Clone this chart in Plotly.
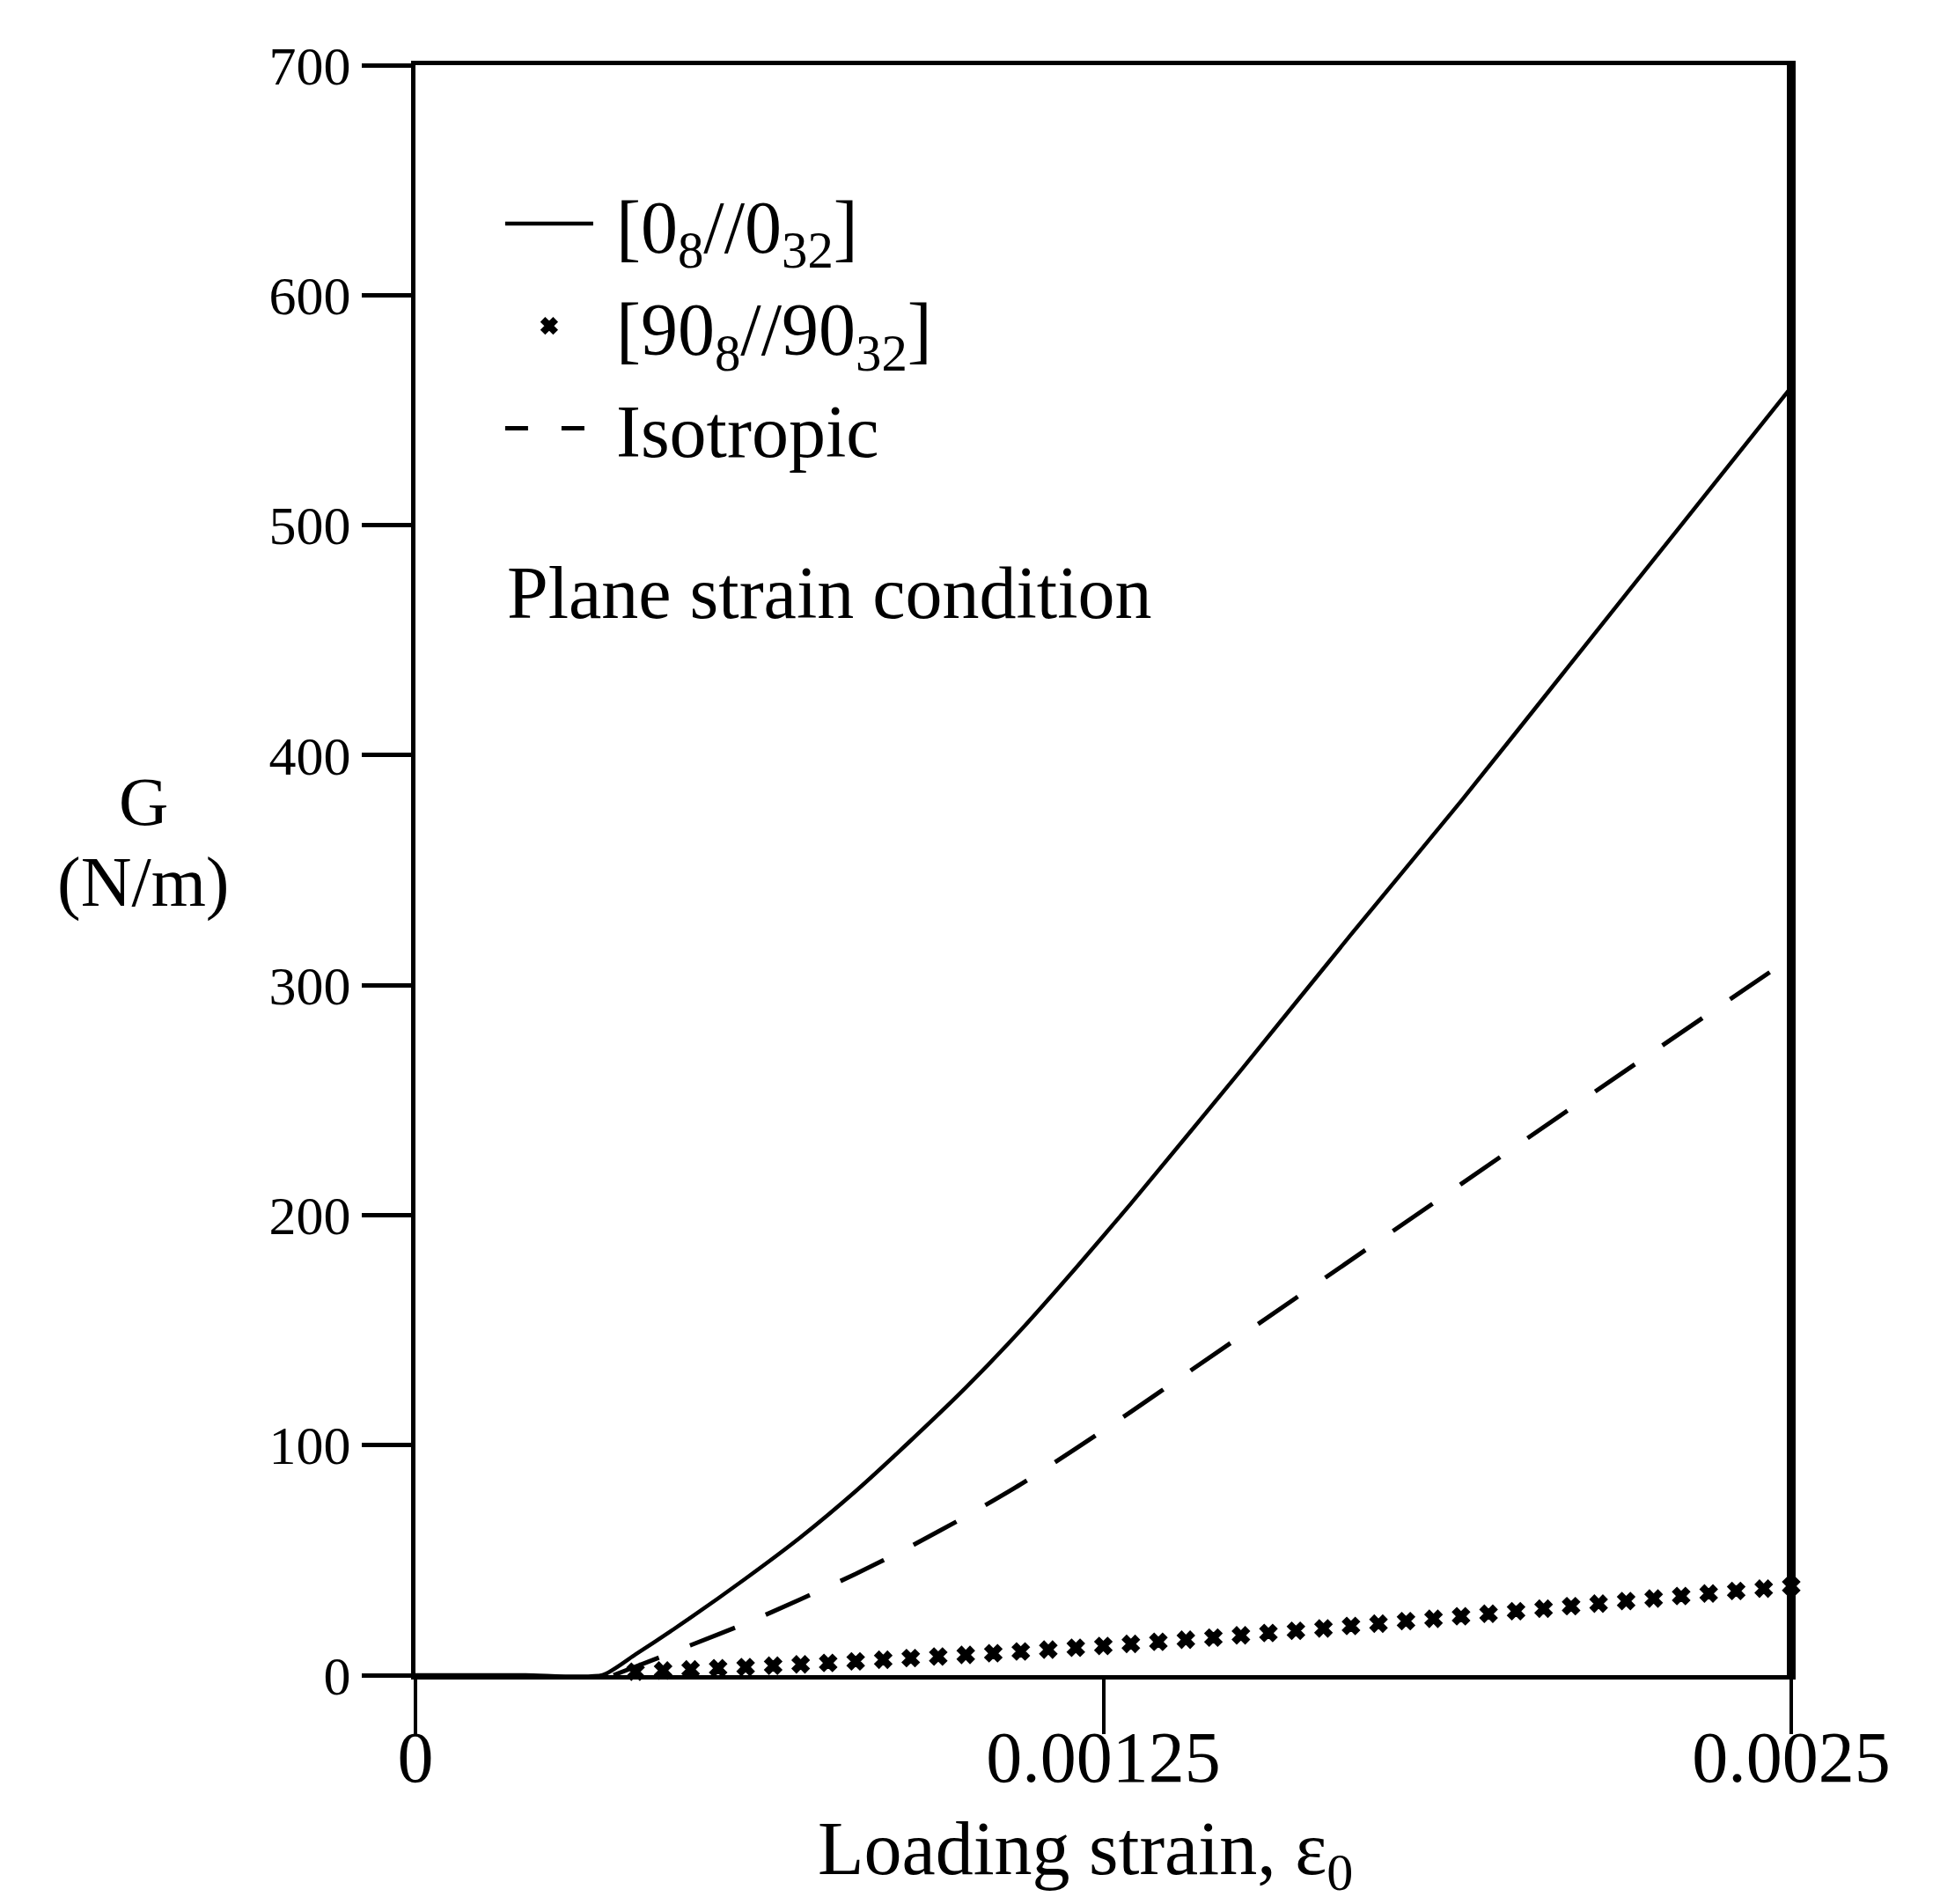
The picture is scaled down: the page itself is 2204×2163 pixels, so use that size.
import plotly.graph_objects as go

# ---- data ----
strain_0 = [0.0, 0.0002, 0.00034, 0.0004, 0.0005, 0.0006, 0.0007, 0.0008, 0.0009, 0.001,
            0.0011, 0.0012, 0.0013, 0.0015, 0.0017, 0.0019, 0.0021, 0.0023, 0.0025]
G_0 = [0.0, 0.0, 0.0, 9.0, 25.0, 42.0, 60.0, 80.0, 102.0, 125.0,
       150.0, 177.0, 205.0, 263.0, 322.0, 380.0, 440.0, 500.0, 560.0]

strain_iso = [0.00036, 0.0005, 0.0006, 0.0007, 0.0008, 0.0009, 0.001, 0.0011, 0.0012,
              0.0013, 0.0014, 0.0016, 0.0018, 0.002, 0.0022, 0.0025]
G_iso = [0.0, 13.0, 22.5, 33.0, 44.0, 56.0, 69.0, 83.0, 98.5,
         114.5, 131.0, 164.0, 197.0, 230.0, 263.0, 312.0]

strain_90 = [0.0004, 0.00045, 0.0005, 0.00055, 0.0006, 0.00065, 0.0007, 0.00075, 0.0008,
             0.00085, 0.0009, 0.00095, 0.001, 0.00105, 0.0011, 0.00115, 0.0012, 0.00125,
             0.0013, 0.00135, 0.0014, 0.00145, 0.0015, 0.00155, 0.0016, 0.00165, 0.0017,
             0.00175, 0.0018, 0.00185, 0.0019, 0.00195, 0.002, 0.00205, 0.0021, 0.00215,
             0.0022, 0.00225, 0.0023, 0.00235, 0.0024, 0.00245, 0.0025]
G_90 = [1.5, 2.0, 2.5, 3.0, 3.5, 4.1, 4.7, 5.3, 6.0,
        6.7, 7.4, 8.1, 8.8, 9.5, 10.3, 11.1, 11.9, 12.7,
        13.6, 14.5, 15.4, 16.3, 17.3, 18.3, 19.3, 20.3, 21.4,
        22.4, 23.5, 24.5, 25.6, 26.7, 27.8, 28.9, 30.0, 31.1,
        32.2, 33.3, 34.4, 35.5, 36.6, 37.6, 38.7]

x_tickvals = [0, 0.00125, 0.0025]
x_ticktext = ["0", "0.00125", "0.0025"]
y_tickvals = [0, 100, 200, 300, 400, 500, 600, 700]

NB = "\u00a0"
names = [NB + "[0<sub>8</sub>//0<sub>32</sub>]", NB + "[90<sub>8</sub>//90<sub>32</sub>]", NB + "Isotropic"]

FONT = "Liberation Serif"
BLACK = "black"

fig = go.Figure()
fig.add_trace(go.Scatter(x=strain_0, y=G_0, mode="lines", name=names[0], legendgroup="a",
                         line=dict(color=BLACK, width=4.5, shape="spline", smoothing=0.6)))
fig.add_trace(go.Scatter(x=strain_90, y=G_90, mode="markers", name=names[1], legendgroup="b",
                         marker=dict(symbol="x", size=17, color=BLACK,
                                     line=dict(color=BLACK, width=1.5)),
                         cliponaxis=False))
# isotropic curve (data) + legend-only sample with a shorter dash so the "- -" shows
fig.add_trace(go.Scatter(x=strain_iso, y=G_iso, mode="lines", name=names[2], legendgroup="c",
                         showlegend=False,
                         line=dict(color=BLACK, width=5, dash="55px,38px",
                                   shape="spline", smoothing=0.6)))
fig.add_trace(go.Scatter(x=[None], y=[None], mode="lines", name=names[2], legendgroup="c",
                         line=dict(color=BLACK, width=5, dash="26px,38px")))

fig.update_layout(
    width=2204, height=2163,
    margin=dict(l=464, r=177, t=66, b=268),
    paper_bgcolor="white", plot_bgcolor="white",
    font=dict(family=FONT, color=BLACK),
    showlegend=True,
    legend=dict(x=0.062, y=0.935, xanchor="left", yanchor="top",
                bgcolor="rgba(0,0,0,0)", font=dict(family=FONT, size=84, color=BLACK),
                itemwidth=100, tracegroupgap=4),
)
fig.update_xaxes(
    range=[0, 0.0025], tickvals=x_tickvals, ticktext=x_ticktext,
    ticks="outside", ticklen=62, tickwidth=4, tickcolor=BLACK,
    showline=True, linewidth=5, linecolor=BLACK, mirror=True,
    showgrid=False, zeroline=False,
    tickfont=dict(family=FONT, size=82, color=BLACK),
    ticklabelstandoff=-44,
)
fig.update_yaxes(
    range=[0, 700], tickvals=y_tickvals,
    ticks="outside", ticklen=56, tickwidth=5, tickcolor=BLACK,
    showline=True, linewidth=5, linecolor=BLACK, mirror=True,
    showgrid=False, zeroline=False,
    tickfont=dict(family=FONT, size=62, color=BLACK),
)

# thicker right frame edge, as in the scan
fig.add_shape(type="line", xref="paper", yref="paper", x0=1, x1=1, y0=0, y1=1,
              line=dict(color=BLACK, width=10))

# axis titles
fig.add_annotation(text="G", xref="paper", yref="paper", x=-0.198, y=0.5175,
                   xanchor="center", yanchor="bottom", showarrow=False,
                   font=dict(family=FONT, size=78, color=BLACK))
fig.add_annotation(text="(N/m)", xref="paper", yref="paper", x=-0.198, y=0.5175,
                   xanchor="center", yanchor="top", showarrow=False,
                   font=dict(family=FONT, size=80, color=BLACK))
fig.add_annotation(text="Loading strain, ε<sub>0</sub>", xref="paper", yref="paper",
                   x=0.487, y=-0.111, xanchor="center", yanchor="middle", showarrow=False,
                   font=dict(family=FONT, size=86, color=BLACK))
fig.add_annotation(text="Plane strain condition", xref="paper", yref="paper", x=0.065, y=0.672,
                   xanchor="left", yanchor="middle", showarrow=False,
                   font=dict(family=FONT, size=84, color=BLACK))

fig.write_html("out.html")
